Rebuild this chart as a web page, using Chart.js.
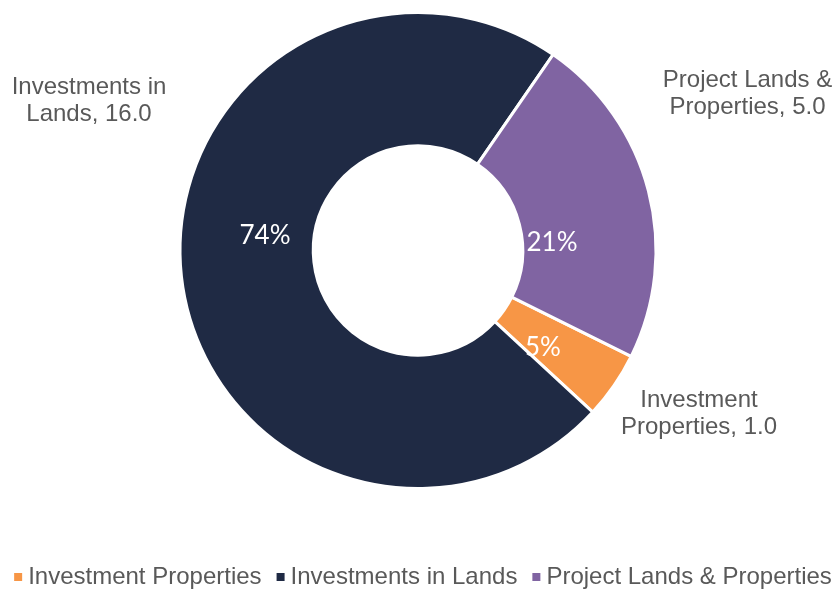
<!DOCTYPE html>
<html>
<head>
<meta charset="utf-8">
<script src="https://cdn.jsdelivr.net/npm/chart.js@4"></script>
<style>
  html, body { margin: 0; padding: 0; background: #fff; }
  #wrap { width: 838px; height: 589px; }
</style>
</head>
<body>
<div id="wrap"><canvas id="donut"></canvas></div>
<script>
// data
const categories = ["Investment Properties", "Investments in Lands", "Project Lands & Properties"];
const values = [1.0, 16.0, 5.0];
const pctLabels = ["5%", "74%", "21%"];
const colors = ["#F79646", "#1F2A44", "#8064A2"];

// outer label lines + where they sit, relative to the doughnut centre
const outerLines = [["Investment", "Properties, 1.0"], ["Investments in", "Lands, 16.0"], ["Project Lands &", "Properties, 5.0"]];
const outerPos = [[281, 169.5], [-329, -143.5], [329.5, -150.5]];
const pctPos = [[125, 97], [-153, -15], [134, -8]];

const textGray = "#595959";
const labelFont = "24px 'Liberation Sans', Arial, sans-serif";

// draws the percent labels, the outer labels and the legend
const labelsPlugin = {
  id: "labels",
  afterDraw(chart) {
    const c = chart.ctx;
    const arc = chart.getDatasetMeta(0).data[0];
    const cx = arc.x, cy = arc.y;
    c.save();
    c.textAlign = "center";
    c.textBaseline = "middle";

    c.fillStyle = "#fff";
    c.font = "26px Lato, 'Open Sans', sans-serif";
    pctLabels.forEach((t, i) => {
      c.fillText(t, cx + pctPos[i][0], cy + pctPos[i][1]);
    });

    c.fillStyle = textGray;
    c.font = labelFont;
    c.textBaseline = "alphabetic";
    outerLines.forEach((lines, i) => {
      lines.forEach((ln, j) => {
        c.fillText(ln, cx + outerPos[i][0], cy + outerPos[i][1] - 13.5 + j * 27);
      });
    });

    // legend
    c.textAlign = "left";
    c.textBaseline = "middle";
    const box = 8, gapBox = 6, gapItem = 15;
    const widths = categories.map(t => c.measureText(t).width);
    let total = 0;
    widths.forEach((w, i) => { total += box + gapBox + w + (i < widths.length - 1 ? gapItem : 0); });
    let x = (chart.width - total) / 2 + 4;
    const y = 577;
    categories.forEach((t, i) => {
      c.fillStyle = colors[i];
      c.fillRect(x, y - box / 2, box, box);
      x += box + gapBox;
      c.fillStyle = textGray;
      c.fillText(t, x, y);
      x += widths[i] + gapItem;
    });
    c.restore();
  }
};

new Chart(document.getElementById("donut"), {
  type: "doughnut",
  data: {
    labels: categories,
    datasets: [{
      data: values,
      backgroundColor: colors,
      borderColor: "#fff",
      borderWidth: 3
    }]
  },
  options: {
    responsive: true,
    maintainAspectRatio: false,
    animation: false,
    rotation: 116.4,
    cutout: "44%",
    layout: { padding: { top: 11, bottom: 99, left: 0, right: 2 } },
    plugins: {
      legend: { display: false },
      tooltip: { enabled: false }
    }
  },
  plugins: [labelsPlugin]
});
</script>
</body>
</html>
